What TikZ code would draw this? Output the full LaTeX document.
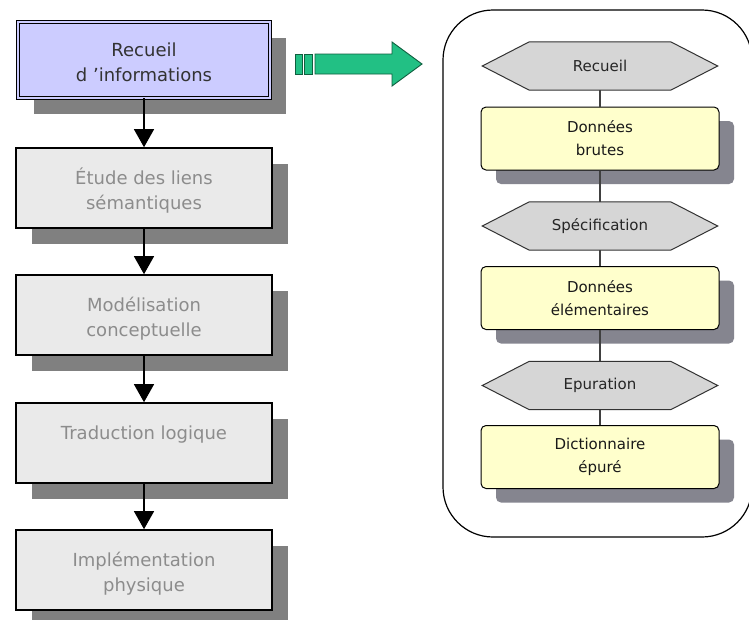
\documentclass[tikz,border=0pt]{standalone}
\usepackage{fontspec}
\setmainfont{DejaVu Sans}
\usetikzlibrary{arrows.meta,shadows}
\pgfdeclarelayer{background}
\pgfsetlayers{background,main}
\definecolor{lav}{HTML}{CCCCFF}
\definecolor{boxgray}{HTML}{EAEAEA}
\definecolor{shgray}{HTML}{808080}
\definecolor{txtgray}{HTML}{8C8C8C}
\definecolor{ylw}{HTML}{FFFFCC}
\definecolor{ysh}{HTML}{85858F}
\definecolor{hexgray}{HTML}{D6D6D6}
\definecolor{grn}{HTML}{22C084}
\definecolor{dgrn}{HTML}{105F3F}
\newcommand\lbt[1]{\parbox[c][70pt][t]{250pt}{\centering\vspace*{13.5pt}#1}}
\newcommand\hexpath[1]{\draw[hexline] (#1.west) -- ([xshift=47pt]#1.north west) -- ([xshift=-47pt]#1.north east) -- (#1.east) -- ([xshift=-47pt]#1.south east) -- ([xshift=47pt]#1.south west) -- cycle;}
\begin{document}
\begin{tikzpicture}[x=1pt,y=-1pt,
  lbox/.style={draw=black, line width=1.6pt, fill=boxgray, minimum width=256pt, minimum height=80pt, inner sep=0pt,
    general shadow={fill=shgray, shadow xshift=16pt, shadow yshift=-16pt}, text=txtgray, font=\fontsize{18}{25}\selectfont},
  firstbox/.style={lbox, line width=0.9pt, double=lav, double distance=2pt, fill=lav, minimum width=252pt, minimum height=76pt, text=black!80},
  flowarrow/.style={-{Triangle[width=20pt,length=18pt]}, line width=1.2pt},
  ybox/.style={draw=black, line width=1pt, rounded corners=5pt, fill=ylw, minimum width=238pt, minimum height=63pt, inner sep=0pt,
    general shadow={fill=ysh, shadow xshift=15pt, shadow yshift=-14pt}, align=center, font=\fontsize{15}{23}\selectfont, text=black!90},
  hexnode/.style={minimum width=235pt, minimum height=48pt, inner sep=0pt, font=\fontsize{15}{23}\selectfont, text=black!85},
  hexline/.style={draw=black!80, line width=1pt, fill=hexgray},
  link/.style={draw=black!75, line width=1.2pt}
]
\useasboundingbox (0,0) rectangle (749,619);
\clip (0,0) rectangle (749,619);

% left column
\node[firstbox] (l1) at (144,60) {\lbt{\strut Recueil\\d ’informations}};
\node[lbox] (l2) at (144,188) {\lbt{\strut Étude des liens\\sémantiques}};
\node[lbox] (l3) at (144,315) {\lbt{\strut Modélisation\\conceptuelle}};
\node[lbox] (l4) at (144,443) {\lbt{\strut Traduction logique}};
\node[lbox] (l5) at (144,570) {\lbt{\strut Implémentation\\physique}};

\draw[flowarrow] (l1.south) -- (l2.north);
\draw[flowarrow] (l2.south) -- (l3.north);
\draw[flowarrow] (l3.south) -- (l4.north);
\draw[flowarrow] (l4.south) -- (l5.north);

% green arrow
\filldraw[fill=grn, draw=dgrn, line width=0.9pt] (295,54) rectangle (302,74);
\filldraw[fill=grn, draw=dgrn, line width=0.9pt] (304,54) rectangle (312,74);
\filldraw[fill=grn, draw=dgrn, line width=0.9pt] (315,54) -- (392,54) -- (392,42) -- (422,64) -- (392,86) -- (392,74) -- (315,74) -- cycle;

% right panel
\draw[line width=1.2pt, rounded corners=50pt] (443,10) rectangle (752,537);

\node[hexnode] (h1) at (600,66) {Recueil};
\node[ybox] (b1) at (600,138.5) {Données\\brutes};
\node[hexnode] (h2) at (600,226) {Spécification};
\node[ybox] (b2) at (600,298) {Données\\élémentaires};
\node[hexnode] (h3) at (600,385.5) {Epuration};
\node[ybox] (b3) at (600,457) {Dictionnaire\\épuré};

\begin{pgfonlayer}{background}
\fill[white] (0,0) rectangle (749,619);
\hexpath{h1}
\hexpath{h2}
\hexpath{h3}
\end{pgfonlayer}

\draw[link] (h1.south) -- (b1.north);
\draw[link] (b1.south) -- (h2.north);
\draw[link] (h2.south) -- (b2.north);
\draw[link] (b2.south) -- (h3.north);
\draw[link] (h3.south) -- (b3.north);
\end{tikzpicture}
\end{document}
